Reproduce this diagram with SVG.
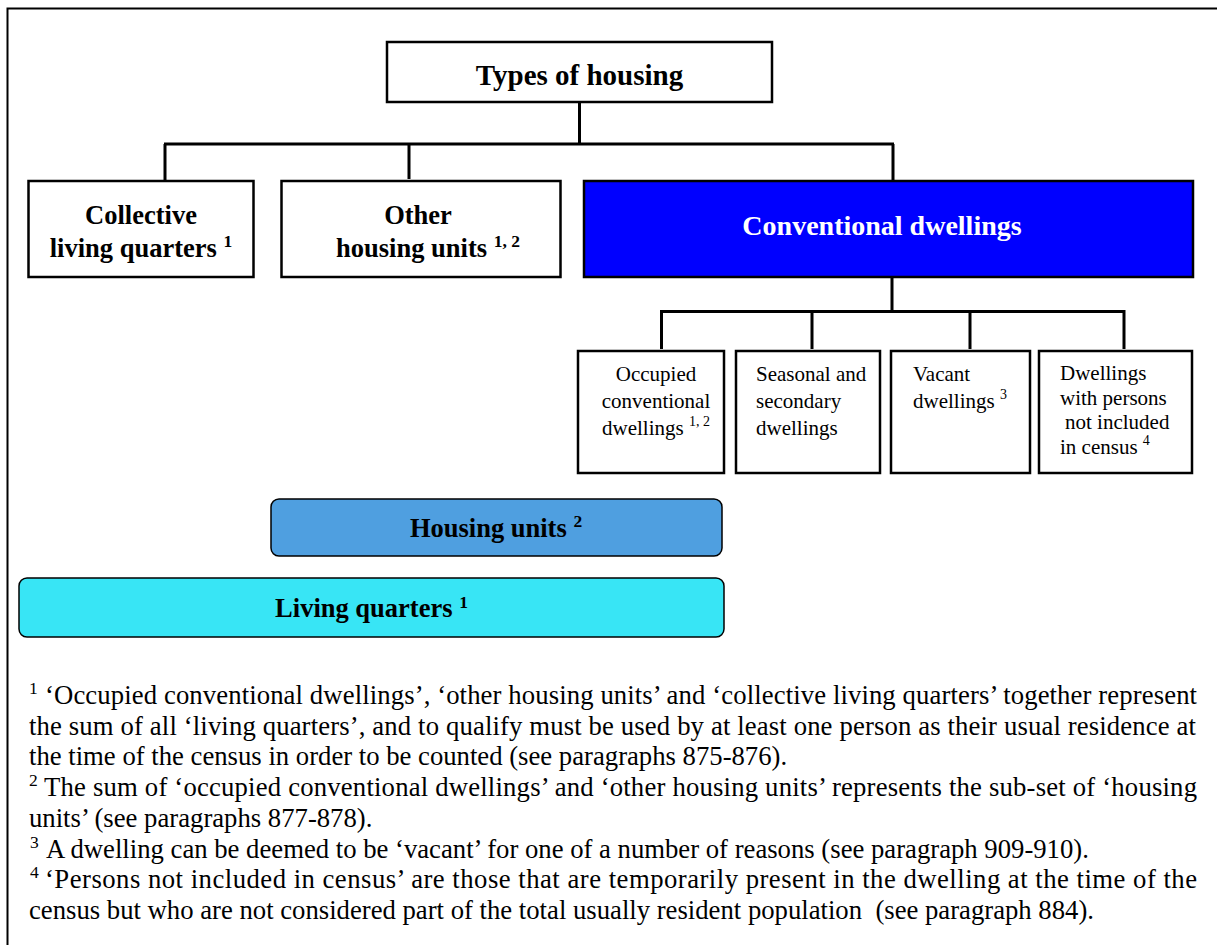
<svg xmlns="http://www.w3.org/2000/svg" width="1217" height="945" viewBox="0 0 1217 945">
<style>
.box{fill:#fff;stroke:#000;stroke-width:2.5}
.conn{stroke:#000;stroke-width:3;fill:none}
.b{font-family:"Liberation Serif","Times New Roman",serif;font-weight:bold;font-size:26.5px;fill:#000}
.r{font-family:"Liberation Serif","Times New Roman",serif;font-size:21px;fill:#000}
.fn{font-family:"Liberation Serif","Times New Roman",serif;font-size:26.7px;fill:#000}
.fs{font-family:"Liberation Serif","Times New Roman",serif;font-size:17.5px;fill:#000}
.sup{font-size:14px}
.bsup{font-size:17.5px}
</style>
<rect x="0" y="0" width="1217" height="945" fill="#fff"/>
<path d="M1217 8.5 H7.5 V945" fill="none" stroke="#000" stroke-width="2"/>

<g id="connectors">
<path class="conn" stroke-width="2" d="M579.5 102 V144"/>
<path class="conn" stroke-width="2.5" d="M164 144 H894"/>
<path class="conn" d="M165 144 V180 M409 145 V179 M893 144 V181"/>
<path class="conn" d="M892 277 V311.5 M660 311.5 H1125.5 M661.5 311 V349 M812 311 V349 M970 311 V349 M1124 311 V349"/>
</g>

<g id="types">
<rect class="box" x="387" y="42" width="385" height="60"/>
<text class="b" x="579.5" y="85" text-anchor="middle" style="font-size:29px">Types of housing</text>
</g>

<g id="collective">
<rect class="box" x="28.5" y="181" width="225" height="96"/>
<text class="b" x="141" y="224" text-anchor="middle">Collective</text>
<text class="b" x="141" y="257" text-anchor="middle">living quarters <tspan class="bsup" dy="-10">1</tspan></text>
</g>

<g id="other">
<rect class="box" x="281.5" y="181" width="279" height="96"/>
<text class="b" x="418" y="224" text-anchor="middle">Other</text>
<text class="b" x="428" y="257" text-anchor="middle">housing units <tspan class="bsup" dy="-10">1, 2</tspan></text>
</g>

<g id="conventional">
<rect x="584" y="181" width="609" height="96" fill="#0000ff" stroke="#000" stroke-width="2.5"/>
<text class="b" x="882" y="235" text-anchor="middle" style="fill:#fff;font-size:28px">Conventional dwellings</text>
</g>

<g id="occupied">
<rect class="box" x="578" y="351" width="146" height="122"/>
<text class="r" x="656" y="381" text-anchor="middle">Occupied</text>
<text class="r" x="656" y="408" text-anchor="middle">conventional</text>
<text class="r" x="656" y="435" text-anchor="middle">dwellings <tspan class="sup" dy="-9">1, 2</tspan></text>
</g>

<g id="seasonal">
<rect class="box" x="736" y="351" width="144" height="122"/>
<text class="r" x="756" y="381">Seasonal and</text>
<text class="r" x="756" y="408">secondary</text>
<text class="r" x="756" y="435">dwellings</text>
</g>

<g id="vacant">
<rect class="box" x="891" y="351" width="139" height="122"/>
<text class="r" x="913" y="381">Vacant</text>
<text class="r" x="913" y="408">dwellings <tspan class="sup" dy="-9">3</tspan></text>
</g>

<g id="notincluded">
<rect class="box" x="1039" y="351" width="153" height="122"/>
<text class="r" x="1060" y="380">Dwellings</text>
<text class="r" x="1060" y="404.5">with persons</text>
<text class="r" x="1065" y="429">not included</text>
<text class="r" x="1060" y="453.5">in census <tspan class="sup" dy="-9">4</tspan></text>
</g>

<g id="housingunits">
<rect x="271" y="499" width="451" height="57" rx="8" fill="#4f9fe0" stroke="#000" stroke-width="1.5"/>
<text class="b" x="496" y="537" text-anchor="middle">Housing units <tspan class="bsup" dy="-10">2</tspan></text>
</g>

<g id="livingquarters">
<rect x="19" y="578" width="705" height="59" rx="8" fill="#38e5f5" stroke="#000" stroke-width="1.5"/>
<text class="b" x="371.5" y="617" text-anchor="middle">Living quarters <tspan class="bsup" dy="-9">1</tspan></text>
</g>

<g id="footnotes">
<text class="fs" x="29" y="694">1</text>
<text class="fn" x="45" y="704" textLength="1152" lengthAdjust="spacing">‘Occupied conventional dwellings’, ‘other housing units’ and ‘collective living quarters’ together represent</text>
<text class="fn" x="29" y="734.7" textLength="1167" lengthAdjust="spacing">the sum of all ‘living quarters’, and to qualify must be used by at least one person as their usual residence at</text>
<text class="fn" x="29" y="765.4">the time of the census in order to be counted (see paragraphs 875-876).</text>
<text class="fs" x="29" y="786">2</text>
<text class="fn" x="44" y="796" textLength="1153" lengthAdjust="spacing">The sum of ‘occupied conventional dwellings’ and ‘other housing units’ represents the sub-set of ‘housing</text>
<text class="fn" x="29" y="826.8">units’ (see paragraphs 877-878).</text>
<text class="fs" x="30" y="847.5">3</text>
<text class="fn" x="46" y="857.5">A dwelling can be deemed to be ‘vacant’ for one of a number of reasons (see paragraph 909-910).</text>
<text class="fs" x="30" y="878">4</text>
<text class="fn" x="45" y="888" textLength="1152" lengthAdjust="spacing">‘Persons not included in census’ are those that are temporarily present in the dwelling at the time of the</text>
<text class="fn" x="29" y="919">census but who are not considered part of the total usually resident population &#160;(see paragraph 884).</text>
</g>
</svg>
